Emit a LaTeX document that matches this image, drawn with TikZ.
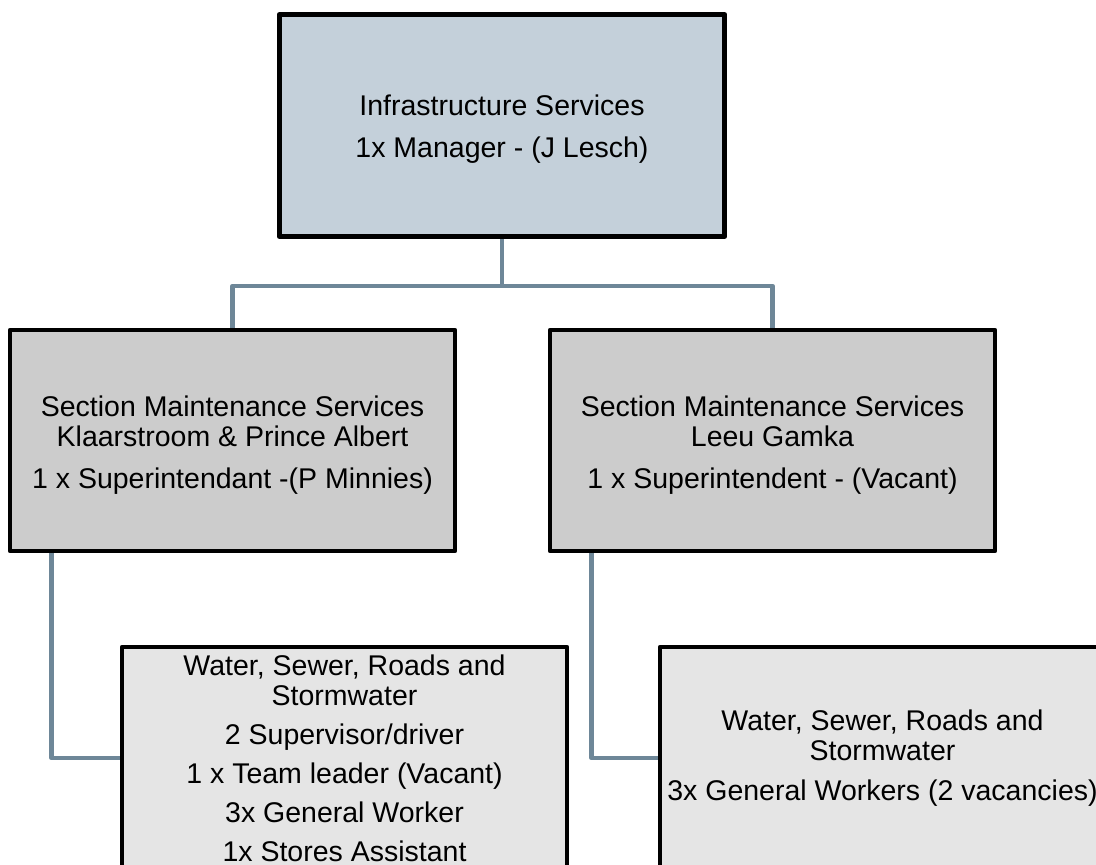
\documentclass[tikz,border=0pt]{standalone}
\usepackage{fontspec}
\setmainfont{Liberation Sans}
\usetikzlibrary{backgrounds}
\definecolor{topfill}{HTML}{C4D0DA}
\definecolor{midfill}{HTML}{CCCCCC}
\definecolor{botfill}{HTML}{E5E5E5}
\definecolor{conn}{HTML}{6E8798}
\tikzset{
  box/.style={draw=black, line width=4.75pt, rectangle, inner sep=0pt, align=center, line join=round},
  topbox/.style={box, fill=topfill, minimum width=445.5pt, minimum height=222pt, font=\fontsize{28.5}{42}\selectfont},
  midbox/.style={box, fill=midfill, minimum width=445pt, minimum height=221pt, font=\fontsize{28.5}{30}\selectfont},
  botbox/.style={box, fill=botfill, minimum width=445pt, minimum height=222pt, font=\fontsize{28.5}{30}\selectfont},
  link/.style={draw=conn, line width=4.5pt, line join=round}
}
\begin{document}
\begin{tikzpicture}[x=1pt,y=-1pt]
\useasboundingbox (0,0) rectangle (1096,865);
\clip (0,0) rectangle (1096,865);
\node[topbox] (top) at (502,125.5) {\rule{0pt}{27pt}Infrastructure Services\\1x Manager - (J Lesch)};
\node[midbox] (midL) at (232.5,440.5) {\rule{0pt}{29pt}Section Maintenance Services\\Klaarstroom \& Prince Albert\\[12pt]1 x Superintendant -(P Minnies)};
\node[midbox] (midR) at (772.5,440.5) {\rule{0pt}{29pt}Section Maintenance Services\\Leeu Gamka\\[12pt]1 x Superintendent - (Vacant)};
\node[botbox] (botL) at (344.5,758) {Water, Sewer, Roads and\\Stormwater\\[9pt]2 Supervisor/driver\\[9pt]1 x Team leader (Vacant)\\[9pt]3x General Worker\\[9pt]1x Stores Assistant};
\node[botbox] (botR) at (882.5,758) {Water, Sewer, Roads and\\Stormwater\\[10pt]3x General Workers (2 vacancies)};
\begin{scope}[on background layer]
  \draw[link] (top.south) -- ++(0,47) coordinate (hub) -| (midL.north);
  \draw[link] (hub) -| (midR.north);
  \draw[link] ([xshift=44pt]midL.south west) |- (botL.west);
  \draw[link] ([xshift=44pt]midR.south west) |- (botR.west);
\end{scope}
\end{tikzpicture}
\end{document}
